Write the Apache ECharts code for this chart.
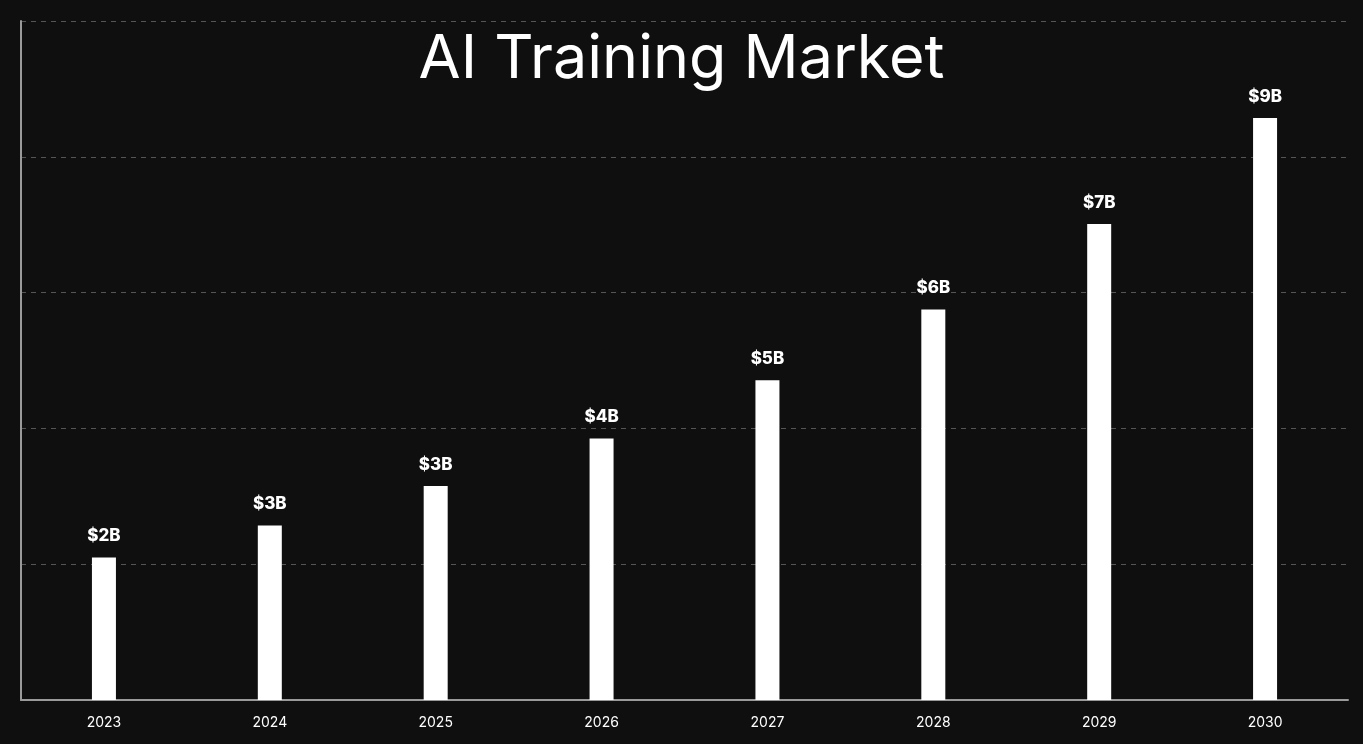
<!DOCTYPE html>
<html>
<head>
<meta charset="utf-8">
<script src="https://cdn.jsdelivr.net/npm/echarts@6/dist/echarts.min.js"></script>
<style>
html,body{margin:0;padding:0;background:#0f0f0f;}
#chart{width:1363px;height:744px;}
</style>
</head>
<body>
<div id="chart"></div>
<script>
const categories = ['2023','2024','2025','2026','2027','2028','2029','2030'];
const values = [2.1, 2.57, 3.15, 3.85, 4.71, 5.75, 7.01, 8.57];
const titleText = 'AI Training Market';

const chart = echarts.init(document.getElementById('chart'));
chart.setOption({
  backgroundColor: '#0f0f0f',
  animation: false,
  title: {
    text: titleText,
    left: 'center',
    top: 24,
    textStyle: {color: '#ffffff', fontFamily: 'Inter', fontSize: 61, fontWeight: 400}
  },
  grid: {left: 21, right: 15, top: 21, bottom: 44, containLabel: false},
  xAxis: {
    type: 'category',
    data: categories,
    axisLine: {lineStyle: {color: '#9a9a9a', width: 2}},
    axisTick: {show: false},
    axisLabel: {color: '#ffffff', fontFamily: 'Inter', fontSize: 14, margin: 16}
  },
  yAxis: {
    type: 'value',
    min: 0, max: 10, interval: 2,
    axisLine: {show: true, lineStyle: {color: '#9a9a9a', width: 2}},
    axisTick: {show: false},
    axisLabel: {show: false},
    splitLine: {lineStyle: {color: '#555555', type: [5, 5], width: 1}}
  },
  series: [{
    type: 'bar',
    data: values,
    barWidth: 24,
    itemStyle: {color: '#ffffff'},
    label: {
      show: true,
      position: 'top',
      distance: 13,
      color: '#ffffff',
      fontFamily: 'Inter',
      fontWeight: 800,
      fontSize: 17,
      formatter: p => '$' + Math.round(p.value) + 'B'
    }
  }]
});
</script>
</body>
</html>
